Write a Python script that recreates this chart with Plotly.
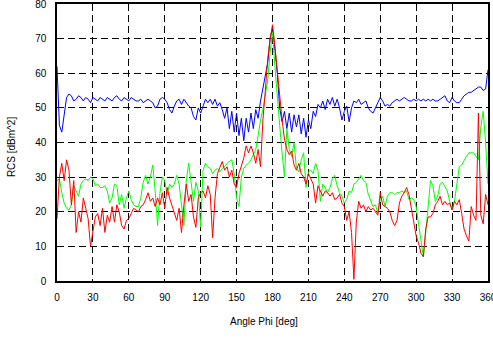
import numpy as np
import plotly.graph_objects as go

angle_step = 2
angles = np.arange(0, 361, angle_step)

blue_rcs = [
    62, 45, 43, 48, 53, 54, 53.5, 52, 52.5, 53.5, 53, 52, 53, 52.5, 51.5, 53,
    52.5, 52, 53, 52.5, 52, 53, 52.5, 52, 53, 53.5, 52.5, 52, 53, 52.5, 52, 53,
    52.5, 52, 52, 52.5, 51.5, 52, 52.5, 52, 51.5, 50, 50.5, 52.5, 53, 52.5, 51.5,
    49.5, 48.5, 50.5, 52, 52.5, 51, 52.5, 51.5, 50.5, 50, 47.5, 46.5, 50, 48.5,
    50.5, 52.5, 51.5, 52.5, 51, 52.5, 50.5, 51.5, 49.5, 47, 50, 44, 49, 43, 48.5,
    42, 47, 40.5, 47, 43, 48.5, 44, 49.5, 47, 52, 56, 59, 63, 70, 73, 67, 60, 50,
    46, 49, 44, 48.5, 43, 48, 44.5, 48, 42.5, 47, 41.5, 46.5, 44, 49, 47.5, 51,
    50, 52, 49.5, 52.5, 51, 53, 50.5, 52.5, 50, 46.5, 49, 50.5, 46, 50, 52, 51.5,
    52.5, 51, 51.5, 52, 50, 49, 48.5, 50, 51.5, 53, 52, 50.5, 51, 50.5, 51.5, 52,
    52.5, 52, 52.5, 53, 52.5, 52, 52, 52.5, 52, 52.5, 52, 52.5, 52, 52.5, 52, 52.5,
    52, 52, 52.5, 53, 53.5, 52, 51.5, 53, 52, 51.5, 51.5, 52.5, 53.5, 54, 54.5,
    54.5, 55, 55.5, 56, 56, 55, 55.5, 61,
]

red_rcs = [
    18, 30, 34, 29, 35, 32, 22, 29, 14, 20, 17, 24, 21, 18, 10, 14, 18.5, 19.5,
    16, 21, 14, 19, 17, 21.5, 17, 22, 20, 16, 15, 17.5, 18, 19.5, 21, 20.5, 20,
    21.5, 22, 23.5, 25.5, 23, 24, 21.5, 24, 22, 25.5, 21, 27, 24, 22, 19.5, 17.5,
    21, 14, 22, 28, 23, 25, 18.5, 15.5, 24, 25.5, 26, 24, 27.5, 25, 12.5, 24, 31,
    33, 34.5, 32, 33, 30, 32, 28, 27, 31, 33.5, 35.5, 39, 37, 39, 37, 34, 38, 33,
    46.5, 55, 64, 70, 74, 68, 60, 52, 46.5, 41, 38, 36.5, 37.5, 33.5, 32, 34, 31,
    30, 28, 31, 29.5, 28, 22.5, 27.5, 26, 24.5, 26, 25.5, 24.5, 25.5, 23.5, 24,
    25, 22.5, 21.5, 17.5, 20, 14, 0.5, 17, 23, 21, 22, 20, 21.5, 20.5, 21, 20, 19,
    25.5, 22, 21.5, 21, 20, 17.5, 16, 17.5, 22.5, 24.5, 25.5, 27, 25, 21, 17.5,
    13, 11, 8, 7, 15, 18.5, 18.5, 19.5, 22, 23, 24.5, 22, 23, 22, 22.5, 20.5, 23,
    22, 23.5, 19.5, 15, 13, 11.5, 21.5, 19, 17.5, 48.5, 19, 16.5, 25, 22,
]

green_rcs = [
    29, 29.5, 25.5, 22.5, 21, 20.5, 22, 27.5, 26, 24.5, 28, 29, 29.5, 29, 30,
    29.5, 27.5, 28, 27, 27, 27.5, 26, 22.5, 24, 28, 27.5, 22, 25, 21, 24, 26, 23.5,
    22, 21.5, 21.5, 24, 28.5, 30.5, 28, 30, 33.5, 26, 16, 25.5, 30, 29, 25, 28, 27,
    28, 30.5, 28, 22, 16, 29, 34, 28.5, 23, 28.5, 26, 15.5, 32, 34, 33, 32.5, 31,
    32, 32.5, 31.5, 32.5, 33, 34, 34.5, 35, 31, 24, 21.5, 30, 32.5, 33.5, 34, 35,
    36.5, 38, 42, 46.5, 49.5, 53.5, 58, 66, 72, 62, 52, 45, 37, 30, 44, 38, 36, 40,
    32.5, 31.5, 35, 37, 27, 31.5, 32, 31, 34, 32, 23, 28, 27, 25.5, 27, 29.5, 30.5,
    27.5, 25.5, 24.5, 22.5, 23.5, 26, 25.5, 28, 28.5, 29.5, 30.5, 29, 28.5, 25,
    23.5, 21.5, 22, 19.5, 23.5, 24.5, 21.5, 24.5, 25.5, 25.5, 25, 25.5, 25.5, 26,
    25.5, 26, 23.5, 24, 23.5, 21.5, 16.5, 12, 7, 14, 22, 29, 27.5, 23, 24.5, 28,
    28.5, 27, 26, 23, 20.5, 23, 28, 33, 33.5, 35, 36, 37, 37, 37, 36, 35, 44.5, 49,
    40, 28,
]

x_ticks = list(range(0, 361, 30))
y_ticks = list(range(0, 81, 10))

font_family = "Liberation Sans, Arial, sans-serif"

fig = go.Figure()
fig.add_trace(go.Scatter(x=angles, y=blue_rcs, mode="lines",
                         line=dict(color="#0000FF", width=1)))
fig.add_trace(go.Scatter(x=angles, y=green_rcs, mode="lines",
                         line=dict(color="#00FF00", width=1)))
fig.add_trace(go.Scatter(x=angles, y=red_rcs, mode="lines",
                         line=dict(color="#FF0000", width=1)))

axis_common = dict(
    showline=True, linecolor="black", linewidth=1.5, mirror=True,
    showgrid=True, gridcolor="black", gridwidth=1.4, griddash="7px,4px",
    zeroline=False, ticks="", tickfont=dict(family=font_family, size=10, color="black"),
    ticklabeloverflow="allow", automargin=False,
)

fig.update_xaxes(range=[0, 360], tickvals=x_ticks, ticklabelstandoff=6, **axis_common)
fig.update_yaxes(range=[0, 80], tickvals=y_ticks, ticklabelstandoff=7, **axis_common)

fig.update_layout(
    width=493, height=338,
    margin=dict(l=57, r=5, t=4, b=57, autoexpand=False),
    paper_bgcolor="white", plot_bgcolor="white",
    showlegend=False,
    font=dict(family=font_family, size=10, color="black"),
    annotations=[
        dict(text="Angle Phi [deg]", xref="paper", yref="paper", x=0.48, y=-0.148,
             showarrow=False, font=dict(size=10), xanchor="center", yanchor="middle"),
        dict(text="RCS [dBm^2]", xref="paper", yref="paper", x=-0.104, y=0.484,
             showarrow=False, font=dict(size=10), textangle=-90,
             xanchor="center", yanchor="middle"),
    ],
)

fig.write_html("out.html")
